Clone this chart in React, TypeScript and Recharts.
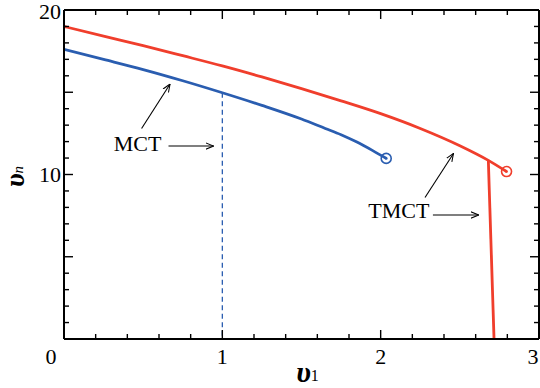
import React from "react";
import {
  ComposedChart,
  Line,
  Scatter,
  XAxis,
  YAxis,
  ReferenceLine,
  ReferenceDot,
} from "recharts";

// curves (v1, vn)
const mctCurve = [
  { x: 0, y: 17.61 },
  { x: 0.25, y: 17.0 },
  { x: 0.5, y: 16.38 },
  { x: 0.75, y: 15.7 },
  { x: 1, y: 14.97 },
  { x: 1.25, y: 14.2 },
  { x: 1.5, y: 13.37 },
  { x: 1.65, y: 12.8 },
  { x: 1.75, y: 12.42 },
  { x: 1.85, y: 11.97 },
  { x: 1.95, y: 11.45 },
  { x: 2.035, y: 10.98 },
];

const tmctCurve = [
  { x: 0, y: 19.0 },
  { x: 0.25, y: 18.41 },
  { x: 0.5, y: 17.83 },
  { x: 0.75, y: 17.22 },
  { x: 1, y: 16.6 },
  { x: 1.25, y: 15.93 },
  { x: 1.5, y: 15.22 },
  { x: 1.75, y: 14.48 },
  { x: 2, y: 13.7 },
  { x: 2.25, y: 12.8 },
  { x: 2.5, y: 11.75 },
  { x: 2.68, y: 10.86 },
  { x: 2.795, y: 10.18 },
];

const tmctBranch = [
  { x: 2.68, y: 10.86 },
  { x: 2.716, y: 0 },
];

const mctGuide = [
  { x: 1, y: 14.97 },
  { x: 1, y: 0 },
];

const mctEnd = [{ x: 2.035, y: 10.98 }];
const tmctEnd = [{ x: 2.795, y: 10.18 }];

const xTicks = [0, 0.2, 0.4, 0.6, 0.8, 1, 1.2, 1.4, 1.6, 1.8, 2, 2.2, 2.4, 2.6, 2.8, 3];
const xLabels = [0, 1, 2, 3];
const yTicks = [0, 1, 2, 3, 4, 5, 6, 7, 8, 9, 10, 11, 12, 13, 14, 15, 16, 17, 18, 19, 20];
const yLabels = [10, 20];

// annotations, in data units
const notes = [
  { text: "MCT", x: 0.465, y: 11.9 },
  { text: "TMCT", x: 2.115, y: 7.85 },
];
const arrows = [
  { from: { x: 0.49, y: 12.8 }, to: { x: 0.67, y: 15.5 } },
  { from: { x: 0.66, y: 11.73 }, to: { x: 0.945, y: 11.73 } },
  { from: { x: 2.28, y: 8.6 }, to: { x: 2.46, y: 11.28 } },
  { from: { x: 2.33, y: 7.54 }, to: { x: 2.62, y: 7.54 } },
];

const RED = "#f03e2c";
const BLUE = "#2a5db0";
const FONT = "'Liberation Serif', 'Times New Roman', serif";
const MINOR = 5;
const MAJOR = 9;

const isMajorX = (v: number) => Math.abs(v - Math.round(v)) < 1e-6;
const isMajorY = (v: number) => v % 5 === 0;

// side: which way the tick points into the plot
const makeTick = (side: "bottom" | "top" | "left" | "right") => (props: any) => {
  const { x, y, payload } = props;
  const v = payload.value as number;
  const len = side === "bottom" || side === "top"
    ? (isMajorX(v) ? MAJOR : MINOR)
    : (isMajorY(v) ? MAJOR : MINOR);
  let line = null;
  if (side === "bottom") line = <line x1={x} y1={y} x2={x} y2={y - len} />;
  if (side === "top") line = <line x1={x} y1={y} x2={x} y2={y + len} />;
  if (side === "left") line = <line x1={x} y1={y} x2={x + len} y2={y} />;
  if (side === "right") line = <line x1={x} y1={y} x2={x - len} y2={y} />;
  let label = null;
  if (side === "bottom" && xLabels.includes(v)) {
    // first and last labels nudged so they sit inside the picture
    const shift = v === 0 ? -13 : v === 3 ? -6 : 0;
    label = (
      <text x={x + shift} y={y + 25} textAnchor="middle" fontSize={22} fontFamily={FONT} fill="#000" stroke="none">
        {v}
      </text>
    );
  }
  if (side === "left" && yLabels.includes(v)) {
    const dy = v === 20 ? 8.5 : 7.5;
    label = (
      <text x={x - 3} y={y + dy} textAnchor="end" fontSize={22} fontFamily={FONT} fill="#000" stroke="none">
        {v}
      </text>
    );
  }
  return (
    <g stroke="#000" strokeWidth={1.4}>
      {line}
      {label}
    </g>
  );
};

const ring = (color: string) => (props: any) => {
  const { cx, cy } = props;
  return (
    <g>
      <circle cx={cx} cy={cy} r={5} fill="none" stroke={color} strokeWidth={1.6} />
      <circle cx={cx} cy={cy} r={1.4} fill={color} />
    </g>
  );
};

const axisStyle = { stroke: "#000", strokeWidth: 2 };

export default function App() {
  return (
    <div style={{ position: "absolute", left: 0, top: 0, background: "#fff" }}>
      <ComposedChart
        width={540}
        height={388}
        margin={{ top: 9, right: 0, bottom: 19, left: 34 }}
      >
        <defs>
          <marker
            id="arrowHead"
            viewBox="0 0 10 10"
            refX="10"
            refY="5"
            markerWidth="8"
            markerHeight="8"
            markerUnits="userSpaceOnUse"
            orient="auto"
          >
            <path d="M0,1 L10,5 L0,9" fill="none" stroke="#000" strokeWidth={1.3} />
          </marker>
        </defs>

        <XAxis xAxisId="x" dataKey="x" type="number" domain={[0, 3]} allowDataOverflow
          orientation="bottom" height={30} ticks={xTicks} interval={0}
          tickSize={0} tickMargin={0} tick={makeTick("bottom")} tickLine={false}
          axisLine={axisStyle} stroke="#000"
          label={{
            content: (p: any) => {
              const vb = p.viewBox;
              const cx = vb.x + vb.width / 2 + 6;
              return (
                <text x={cx} y={382} textAnchor="middle" fontFamily={FONT} fill="#000">
                  <tspan fontSize={30} fontStyle="italic" fontWeight="bold">υ</tspan>
                  <tspan fontSize={16} dy={-1}>1</tspan>
                </text>
              );
            },
          }} />
        <XAxis xAxisId="top" dataKey="x" type="number" domain={[0, 3]} allowDataOverflow
          orientation="top" height={1} ticks={xTicks} interval={0}
          tickSize={0} tickMargin={0} tick={makeTick("top")} tickLine={false}
          axisLine={axisStyle} stroke="#000" />

        <YAxis yAxisId="y" dataKey="y" type="number" domain={[0, 20]} allowDataOverflow
          orientation="left" width={30} ticks={yTicks} interval={0}
          tickSize={0} tickMargin={0} tick={makeTick("left")} tickLine={false}
          axisLine={axisStyle} stroke="#000"
          label={{
            content: (p: any) => {
              const vb = p.viewBox;
              const cy = vb.y + vb.height / 2 + 2;
              return (
                <text x={24} y={cy} transform={`rotate(-90, 24, ${cy})`} textAnchor="middle"
                  fontFamily={FONT} fill="#000">
                  <tspan fontSize={28} fontStyle="italic" fontWeight="bold">υ</tspan>
                  <tspan fontSize={15} fontStyle="italic" dy={-1}>n</tspan>
                </text>
              );
            },
          }} />
        <YAxis yAxisId="right" type="number" domain={[0, 20]} allowDataOverflow
          orientation="right" width={1} ticks={yTicks} interval={0}
          tickSize={0} tickMargin={0} tick={makeTick("right")} tickLine={false}
          axisLine={axisStyle} stroke="#000" />

        <Line data={mctGuide} dataKey="y" xAxisId="x" yAxisId="y" type="linear"
          stroke={BLUE} strokeWidth={1.3} strokeDasharray="5 3.5" dot={false}
          activeDot={false} isAnimationActive={false} />
        <Line data={mctCurve} dataKey="y" xAxisId="x" yAxisId="y" type="monotone"
          stroke={BLUE} strokeWidth={2.8} dot={false} activeDot={false} isAnimationActive={false} />
        <Line data={tmctCurve} dataKey="y" xAxisId="x" yAxisId="y" type="monotone"
          stroke={RED} strokeWidth={2.8} dot={false} activeDot={false} isAnimationActive={false} />
        <Line data={tmctBranch} dataKey="y" xAxisId="x" yAxisId="y" type="linear"
          stroke={RED} strokeWidth={2.8} dot={false} activeDot={false} isAnimationActive={false} />
        <Scatter data={mctEnd} dataKey="y" xAxisId="x" yAxisId="y" shape={ring(BLUE)}
          isAnimationActive={false} />
        <Scatter data={tmctEnd} dataKey="y" xAxisId="x" yAxisId="y" shape={ring(RED)}
          isAnimationActive={false} />

        {arrows.map((a, i) => (
          <ReferenceLine key={i} xAxisId="x" yAxisId="y" segment={[a.from, a.to]}
            stroke="#000" strokeWidth={1.1} markerEnd="url(#arrowHead)" ifOverflow="visible" />
        ))}
        {notes.map((n) => (
          <ReferenceDot key={n.text} xAxisId="x" yAxisId="y" x={n.x} y={n.y} r={0}
            stroke="none" fill="none" ifOverflow="visible"
            label={{ value: n.text, position: "center", fontSize: 22, fontFamily: FONT, fill: "#000" }} />
        ))}
      </ComposedChart>
    </div>
  );
}
